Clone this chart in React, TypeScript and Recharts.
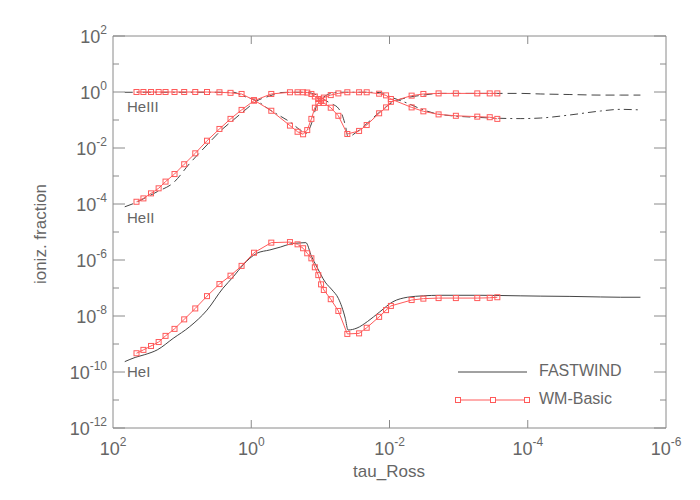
import React from 'react'
import { LineChart, Line, XAxis, YAxis, ReferenceLine } from 'recharts'

// all values are log10: x = log10(tau_Ross), y = log10(ionization fraction)

// FASTWIND model
const fwTau = [1.83, 1.68, 1.54, 1.36, 1.13, 0.89, 0.64, 0.41, 0.26, 0.12, -0.08, -0.27, -0.42, -0.56, -0.71, -0.79, -0.87, -0.95, -1.07, -1.17, -1.26, -1.31, -1.36, -1.40, -1.53, -1.68, -1.86, -2.05, -2.26, -2.49, -2.73, -3.31, -3.89, -4.18, -4.61, -5.05, -5.34, -5.63]
const fwHeI = [-9.63, -9.48, -9.38, -9.21, -8.80, -8.38, -7.79, -7.01, -6.60, -6.18, -5.76, -5.64, -5.54, -5.43, -5.39, -5.38, -5.86, -6.25, -6.79, -7.07, -7.37, -7.67, -8.08, -8.50, -8.43, -8.20, -7.85, -7.49, -7.33, -7.28, -7.26, -7.26, -7.28, -7.29, -7.30, -7.32, -7.33, -7.33]
const fwHeII = [-4.10, -3.96, -3.79, -3.56, -3.25, -2.55, -1.89, -1.31, -1.00, -0.71, -0.32, -0.14, -0.02, -0.01, -0.01, -0.01, -0.04, -0.11, -0.30, -0.43, -0.58, -0.79, -1.18, -1.60, -1.42, -1.11, -0.71, -0.36, -0.20, -0.11, -0.05, -0.05, -0.05, -0.07, -0.09, -0.11, -0.11, -0.11]
const fwHeIII = [-0.01, -0.01, -0.01, -0.01, -0.01, -0.01, -0.01, -0.01, -0.01, -0.14, -0.32, -0.64, -0.86, -1.07, -1.36, -1.48, -1.14, -0.46, -0.14, -0.04, -0.01, -0.01, -0.01, -0.01, -0.01, -0.01, -0.02, -0.21, -0.40, -0.64, -0.80, -0.91, -0.95, -0.93, -0.82, -0.68, -0.62, -0.64]

// WM-Basic model
const wmTau = [1.66, 1.56, 1.45, 1.34, 1.24, 1.11, 0.97, 0.81, 0.64, 0.46, 0.30, 0.14, -0.04, -0.29, -0.56, -0.67, -0.75, -0.81, -0.87, -0.92, -0.97, -1.01, -1.05, -1.15, -1.26, -1.39, -1.56, -1.67, -1.85, -1.95, -2.02, -2.32, -2.49, -2.71, -2.96, -3.27, -3.45, -3.56]
const wmHeI = [-9.33, -9.21, -9.07, -8.93, -8.71, -8.46, -8.12, -7.73, -7.29, -6.86, -6.56, -6.21, -5.74, -5.38, -5.36, -5.44, -5.58, -5.76, -5.94, -6.26, -6.54, -6.87, -7.07, -7.40, -7.82, -8.64, -8.62, -8.42, -8.03, -7.79, -7.64, -7.43, -7.38, -7.36, -7.36, -7.36, -7.35, -7.33]
const wmHeII = [-3.92, -3.80, -3.62, -3.44, -3.20, -2.93, -2.58, -2.19, -1.74, -1.32, -0.96, -0.64, -0.31, -0.07, -0.01, -0.01, -0.01, -0.02, -0.07, -0.16, -0.25, -0.32, -0.39, -0.56, -0.85, -1.50, -1.39, -1.18, -0.76, -0.55, -0.35, -0.13, -0.07, -0.05, -0.05, -0.05, -0.05, -0.05]
const wmHeIII = [0, 0, 0, 0, 0, 0, 0, 0, 0, -0.01, -0.03, -0.07, -0.29, -0.67, -1.20, -1.42, -1.51, -1.36, -0.96, -0.56, -0.39, -0.27, -0.20, -0.11, -0.05, -0.01, -0.01, -0.01, -0.06, -0.12, -0.25, -0.55, -0.69, -0.80, -0.85, -0.88, -0.90, -0.96]

const xTicks = [2, 0, -2, -4, -6]
const yTicks = [2, 1, 0, -1, -2, -3, -4, -5, -6, -7, -8, -9, -10, -11, -12]

const PLOT_LEFT = 113
const PLOT_RIGHT = 666
const PLOT_TOP = 36
const PLOT_BOTTOM = 428

const AXIS = '#8a8a8a'
const TEXT = '#666'
const FW = '#444'
const RED = '#ff5a5a'
const FONT = '"Liberation Sans", Arial, sans-serif'

const toPoints = (xs: number[], ys: number[]) => xs.map((x, i) => ({ x, y: ys[i] }))

function XTick({ x, payload }: any) {
  const v = payload.value
  const inner = v !== 2 && v !== -6
  return (
    <g>
      {inner && <line x1={x} x2={x} y1={PLOT_BOTTOM} y2={PLOT_BOTTOM - 8} stroke={AXIS} />}
      {inner && <line x1={x} x2={x} y1={PLOT_TOP} y2={PLOT_TOP + 8} stroke={AXIS} />}
      <text x={x} y={PLOT_BOTTOM + 27} textAnchor="middle" fontSize={18} fill={TEXT} fontFamily={FONT}>
        10<tspan dy={-9} fontSize={12}>{v}</tspan>
      </text>
    </g>
  )
}

function YTick({ y, payload }: any) {
  const v = payload.value
  const major = v % 2 === 0
  const len = major ? 12 : 6
  return (
    <g>
      <line x1={PLOT_LEFT} x2={PLOT_LEFT + len} y1={y} y2={y} stroke={AXIS} />
      <line x1={PLOT_RIGHT} x2={PLOT_RIGHT - len} y1={y} y2={y} stroke={AXIS} />
      {major && (
        <text x={107} y={y + 7} textAnchor="end" fontSize={18} fill={TEXT} fontFamily={FONT}>
          10<tspan dy={-9} fontSize={12}>{v}</tspan>
        </text>
      )}
    </g>
  )
}

const Square = (props: any) => {
  const { cx, cy, index } = props
  if (cx == null || cy == null) return <g key={index} />
  return <rect key={index} x={cx - 2.5} y={cy - 2.5} width={5} height={5} fill="none" stroke={RED} strokeWidth={1} />
}

export default function App() {
  return (
    <div style={{ position: 'absolute', left: 0, top: 0, width: 700, height: 500, background: '#fff' }}>
      <LineChart width={700} height={500} margin={{ top: 36, right: 34, bottom: 0, left: 0 }}>
        <XAxis
          type="number"
          dataKey="x"
          domain={[-6, 2]}
          reversed
          ticks={xTicks}
          interval={0}
          tick={<XTick />}
          tickLine={false}
          axisLine={{ stroke: AXIS }}
          height={72}
          allowDataOverflow
        />
        <YAxis
          type="number"
          domain={[-12, 2]}
          ticks={yTicks}
          interval={0}
          tick={<YTick />}
          tickLine={false}
          axisLine={{ stroke: AXIS }}
          width={113}
          allowDataOverflow
        />
        <ReferenceLine y={2} stroke={AXIS} />
        <ReferenceLine x={-6} stroke={AXIS} />

        <Line data={toPoints(fwTau, fwHeI)} dataKey="y" type="monotoneX" stroke={FW} strokeWidth={1} dot={false} activeDot={false} isAnimationActive={false} />
        <Line data={toPoints(fwTau, fwHeII)} dataKey="y" type="monotoneX" stroke={FW} strokeWidth={1} strokeDasharray="9 5" dot={false} activeDot={false} isAnimationActive={false} />
        <Line data={toPoints(fwTau, fwHeIII)} dataKey="y" type="monotoneX" stroke={FW} strokeWidth={1} strokeDasharray="8 4 2 4" dot={false} activeDot={false} isAnimationActive={false} />

        <Line data={toPoints(wmTau, wmHeI)} dataKey="y" type="linear" stroke={RED} strokeWidth={1} dot={Square} activeDot={false} isAnimationActive={false} />
        <Line data={toPoints(wmTau, wmHeII)} dataKey="y" type="linear" stroke={RED} strokeWidth={1} dot={Square} activeDot={false} isAnimationActive={false} />
        <Line data={toPoints(wmTau, wmHeIII)} dataKey="y" type="linear" stroke={RED} strokeWidth={1} dot={Square} activeDot={false} isAnimationActive={false} />
      </LineChart>

      <svg width={700} height={500} style={{ position: 'absolute', left: 0, top: 0, pointerEvents: 'none' }}>
        <g fontFamily={FONT} fill={TEXT}>
          <text x={389} y={477} textAnchor="middle" fontSize={17}>tau_Ross</text>
          <text x={46} y={234} textAnchor="middle" fontSize={17} transform="rotate(-90 46 234)">ioniz. fraction</text>
          <text x={127} y={112} fontSize={15}>HeIII</text>
          <text x={127} y={223} fontSize={15}>HeII</text>
          <text x={127} y={377} fontSize={15}>HeI</text>
        </g>
        <line x1={458} x2={527} y1={372} y2={372} stroke={FW} strokeWidth={1} />
        <text x={539} y={376} fontSize={16} fill={TEXT} fontFamily={FONT}>FASTWIND</text>
        <line x1={458} x2={527} y1={400} y2={400} stroke={RED} strokeWidth={1} />
        {[458, 493, 527].map((cx) => (
          <rect key={cx} x={cx - 2.5} y={397.5} width={5} height={5} fill="#fff" stroke={RED} strokeWidth={1} />
        ))}
        <text x={539} y={404} fontSize={16} fill={TEXT} fontFamily={FONT}>WM-Basic</text>
      </svg>
    </div>
  )
}
